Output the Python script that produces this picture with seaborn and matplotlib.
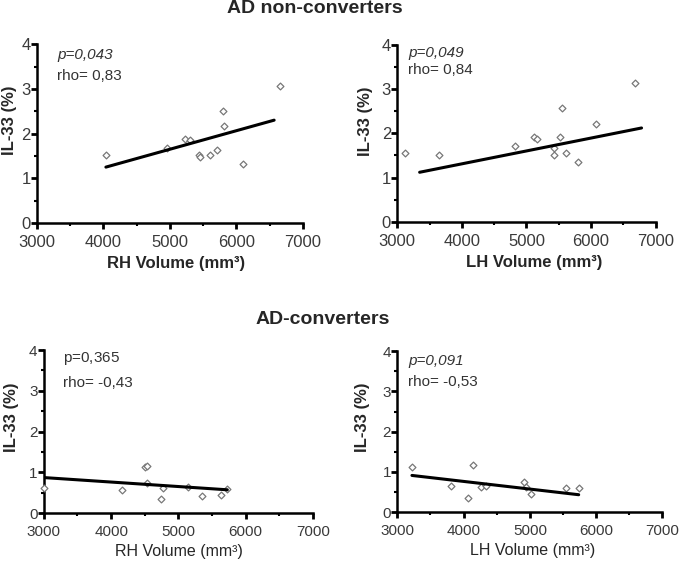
import matplotlib
matplotlib.use("Agg")
import matplotlib.pyplot as plt
import seaborn as sns
import pandas as pd
from matplotlib.ticker import MultipleLocator

sns.set_style("white")
plt.rcParams['font.family'] = ['Liberation Sans', 'DejaVu Sans']
plt.rcParams['mathtext.fontset'] = 'custom'
plt.rcParams['mathtext.rm'] = 'Liberation Sans'
plt.rcParams['mathtext.it'] = 'Liberation Sans:italic'

# ---- data ----
# AD non-converters, right hemisphere
nc_rh_vol = [4037, 4955, 5230, 5296, 5441, 5446, 5606, 5707, 5797, 5807, 6098, 6659]
nc_rh_il = [1.53, 1.68, 1.87, 1.85, 1.51, 1.47, 1.52, 1.63, 2.51, 2.17, 1.31, 3.07]
nc_rh_fit_x = [4037, 6569]
nc_rh_fit_y = [1.25, 2.30]

# AD non-converters, left hemisphere
nc_lh_vol = [3114, 3645, 4817, 5116, 5168, 5431, 5431, 5514, 5555, 5606, 5797, 6081, 6685]
nc_lh_il = [1.55, 1.50, 1.72, 1.92, 1.86, 1.66, 1.52, 1.91, 2.57, 1.55, 1.35, 2.22, 3.13]
nc_lh_fit_x = [3346, 6783]
nc_lh_fit_y = [1.12, 2.12]

# AD-converters, right hemisphere
c_rh_vol = [3000, 4165, 4507, 4537, 4537, 4775, 4735, 5141, 5349, 5632, 5726]
c_rh_il = [0.62, 0.57, 1.12, 1.16, 0.74, 0.61, 0.34, 0.63, 0.42, 0.45, 0.59]
c_rh_fit_x = [3000, 5726]
c_rh_fit_y = [0.87, 0.57]

# AD-converters, left hemisphere
c_lh_vol = [3221, 3805, 4062, 4137, 4263, 4343, 4917, 4942, 5018, 5541, 5737]
c_lh_il = [1.13, 0.64, 0.36, 1.18, 0.61, 0.64, 0.75, 0.62, 0.44, 0.60, 0.60]
c_lh_fit_x = [3221, 5737]
c_lh_fit_y = [0.91, 0.43]

x_ticks = [3000, 4000, 5000, 6000, 7000]
y_ticks = [0, 1, 2, 3, 4]

panels = [
    dict(rect=[0.054, 0.606, 0.388, 0.316], x=nc_rh_vol, y=nc_rh_il, fx=nc_rh_fit_x, fy=nc_rh_fit_y,
         xlabel="RH Volume (mm³)", pval="0,043", rho="0,83", p_italic_all=True,
         pt=(0.075, 0.94), rt=(0.075, 0.82), bold_x=True,
         ylc=(-0.105, 0.575), xlc=(0.525, -0.225)),
    dict(rect=[0.580, 0.608, 0.377, 0.313], x=nc_lh_vol, y=nc_lh_il, fx=nc_lh_fit_x, fy=nc_lh_fit_y,
         xlabel="LH Volume (mm³)", pval="0,049", rho="0,84", p_italic_all=True,
         pt=(0.043, 0.955), rt=(0.043, 0.86), bold_x=True,
         ylc=(-0.124, 0.57), xlc=(0.53, -0.232)),
    dict(rect=[0.064, 0.0936, 0.393, 0.288], x=c_rh_vol, y=c_rh_il, fx=c_rh_fit_x, fy=c_rh_fit_y,
         xlabel="RH Volume (mm³)", pval="0,365", rho="-0,43", p_italic_all=False,
         pt=(0.07, 0.95), rt=(0.07, 0.80), bold_x=False,
         ylc=(-0.119, 0.59), xlc=(0.5, -0.233)),
    dict(rect=[0.580, 0.0954, 0.387, 0.284], x=c_lh_vol, y=c_lh_il, fx=c_lh_fit_x, fy=c_lh_fit_y,
         xlabel="LH Volume (mm³)", pval="0,091", rho="-0,53", p_italic_all=True,
         pt=(0.04, 0.94), rt=(0.04, 0.81), bold_x=False,
         ylc=(-0.132, 0.59), xlc=(0.51, -0.242)),
]

fig = plt.figure(figsize=(6.85, 5.66), dpi=100)

for p in panels:
    ax = fig.add_axes(p["rect"])
    df = pd.DataFrame({"vol": p["x"], "il": p["y"]})
    fit = pd.DataFrame({"vol": p["fx"], "il": p["fy"]})
    sns.scatterplot(data=df, x="vol", y="il", ax=ax, marker="D", s=12,
                    facecolor="white", edgecolor="#777777", linewidth=0.9, zorder=3, clip_on=False)
    sns.lineplot(data=fit, x="vol", y="il", ax=ax, color="black", linewidth=2.2, zorder=4)
    ax.set_xlim(3000, 7000)
    ax.set_ylim(0, 4)
    ax.set_xticks(x_ticks)
    ax.set_yticks(y_ticks)
    ax.xaxis.set_minor_locator(MultipleLocator(500))
    ax.yaxis.set_minor_locator(MultipleLocator(0.5))
    lsize = 12 if p["bold_x"] else 11
    ax.tick_params(axis="x", which="major", direction="out", length=4, width=2,
                   color="black", labelsize=lsize, labelcolor="#3a3a3a", pad=4.5)
    ax.tick_params(axis="y", which="major", direction="out", length=4, width=2,
                   color="black", labelsize=lsize, labelcolor="#3a3a3a", pad=0.5)
    ax.tick_params(axis="both", which="minor", direction="out", length=2.5, width=1.5, color="black")
    ax.tick_params(axis="x", which="both", bottom=True)
    ax.tick_params(axis="y", which="both", left=True)
    for s in ["top", "right"]:
        ax.spines[s].set_visible(False)
    for s in ["left", "bottom"]:
        ax.spines[s].set_linewidth(1.8)
        ax.spines[s].set_color("black")
    ax.set_ylabel("IL-33 (%)", fontsize=12, fontweight="bold")
    ax.yaxis.set_label_coords(*p["ylc"])
    ax.yaxis.label.set_va("center")
    ax.set_xlabel(p["xlabel"], fontsize=12 if p["bold_x"] else 11.5,
                  fontweight="bold" if p["bold_x"] else "normal")
    ax.xaxis.set_label_coords(*p["xlc"])
    ax.xaxis.label.set_va("center")
    if p["p_italic_all"]:
        ax.text(*p["pt"], f"p={p['pval']}", transform=ax.transAxes, fontsize=11,
                style="italic", color="#333333", va="center", ha="left")
    else:
        pv = p["pval"].replace(",", "{,}")
        ax.text(*p["pt"], f"p=$\\mathit{{{pv}}}$", transform=ax.transAxes, fontsize=11,
                color="#333333", va="center", ha="left")
    ax.text(*p["rt"], f"rho= {p['rho']}", transform=ax.transAxes, fontsize=11,
            color="#333333", va="center", ha="left")

fig.text(0.46, 0.985, "AD non-converters", fontsize=14, fontweight="bold", ha="center", va="center")
fig.text(0.471, 0.436, "AD-converters", fontsize=14, fontweight="bold", ha="center", va="center")

fig.savefig("out.png", dpi=100, facecolor="white")
